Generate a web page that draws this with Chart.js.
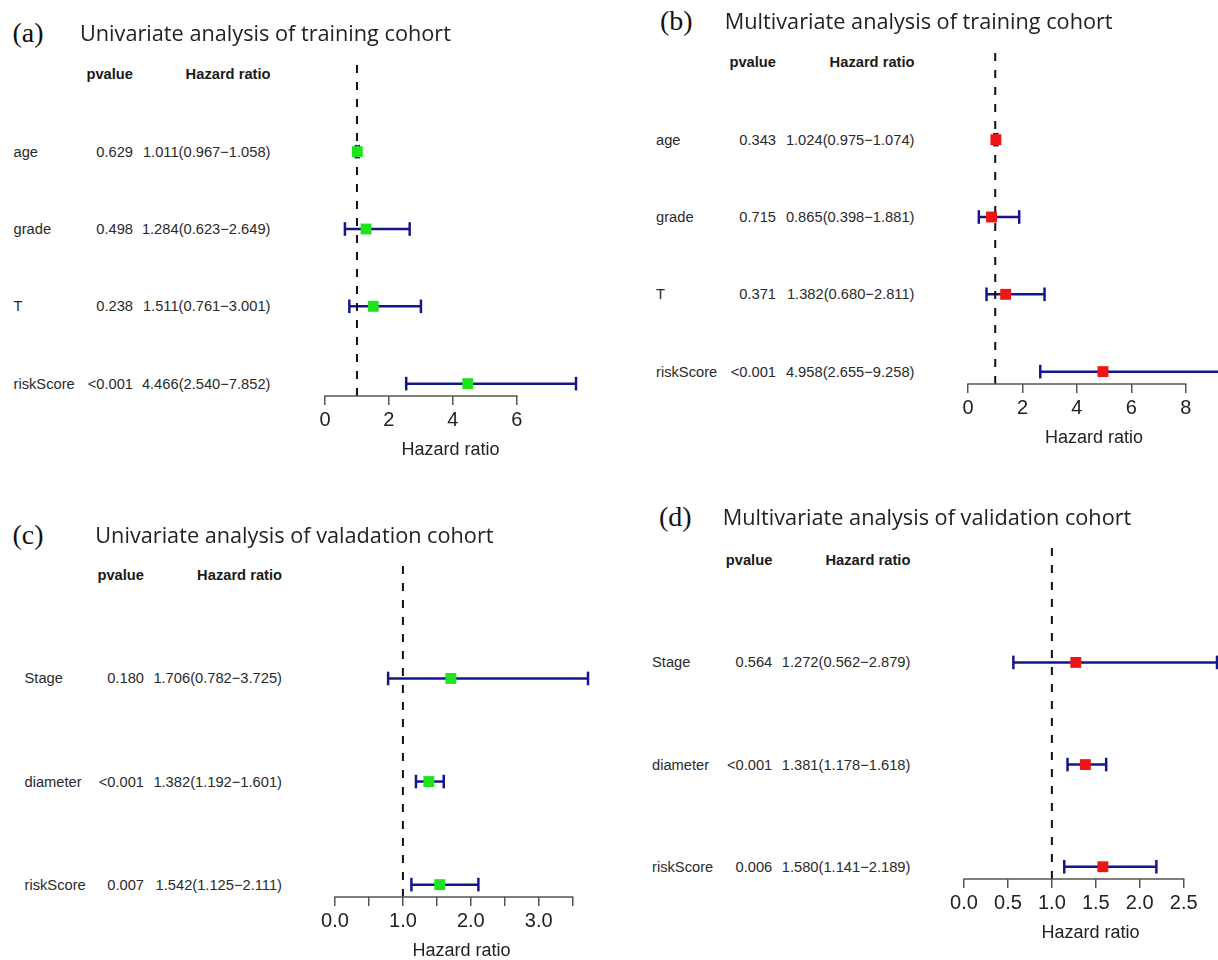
<!DOCTYPE html>
<html><head><meta charset="utf-8">
<script src="https://cdn.jsdelivr.net/npm/chart.js@4.4.1/dist/chart.umd.min.js"></script>
<style>
html,body{margin:0;padding:0;background:#fff;overflow:hidden;width:1218px;height:960px;}
#root{position:relative;width:1218px;height:960px;overflow:hidden;background:#fff;}
canvas{position:absolute;}
.t{position:absolute;white-space:nowrap;line-height:1;color:#222;font-family:"Liberation Sans",Arial,sans-serif;z-index:2;}
.tag{font-family:"Liberation Serif","Times New Roman",serif;font-size:28px;color:#111;}
.title{font-family:"Open Sans",sans-serif;font-size:21.7px;color:#222;}
.cell{font-size:14.7px;color:#2a2a2a;}
.hdr{font-size:14.7px;font-weight:bold;color:#1a1a1a;}
</style></head><body><div id="root"></div>
<script>
// ---------- data ----------
const titles = [
  'Univariate analysis of training cohort',
  'Multivariate analysis of training cohort',
  'Univariate analysis of valadation cohort',
  'Multivariate analysis of validation cohort'
];
const tags = ['(a)', '(b)', '(c)', '(d)'];

const aVars = ['age', 'grade', 'T', 'riskScore'];
const aPvalue = ['0.629', '0.498', '0.238', '<0.001'];
const aHR = [1.011, 1.284, 1.511, 4.466];
const aLow = [0.967, 0.623, 0.761, 2.540];
const aHigh = [1.058, 2.649, 3.001, 7.852];
const aTicks = [0, 2, 4, 6];
const aTickLabels = ['0', '2', '4', '6'];

const bVars = ['age', 'grade', 'T', 'riskScore'];
const bPvalue = ['0.343', '0.715', '0.371', '<0.001'];
const bHR = [1.024, 0.865, 1.382, 4.958];
const bLow = [0.975, 0.398, 0.680, 2.655];
const bHigh = [1.074, 1.881, 2.811, 9.258];
const bTicks = [0, 2, 4, 6, 8];
const bTickLabels = ['0', '2', '4', '6', '8'];

const cVars = ['Stage', 'diameter', 'riskScore'];
const cPvalue = ['0.180', '<0.001', '0.007'];
const cHR = [1.706, 1.382, 1.542];
const cLow = [0.782, 1.192, 1.125];
const cHigh = [3.725, 1.601, 2.111];
const cTicks = [0, 0.5, 1, 1.5, 2, 2.5, 3, 3.5];
const cTickLabels = ['0.0', '', '1.0', '', '2.0', '', '3.0', ''];

const dVars = ['Stage', 'diameter', 'riskScore'];
const dPvalue = ['0.564', '<0.001', '0.006'];
const dHR = [1.272, 1.381, 1.580];
const dLow = [0.562, 1.178, 1.141];
const dHigh = [2.879, 1.618, 2.189];
const dTicks = [0, 0.5, 1, 1.5, 2, 2.5];
const dTickLabels = ['0.0', '0.5', '1.0', '1.5', '2.0', '2.5'];

const refLine = 1;
const xTitle = 'Hazard ratio';
const headerP = 'pvalue';
const headerHR = 'Hazard ratio';

// ---------- styles / layout ----------
const BLUE = '#16168c', GREEN = '#1fe31f', RED = '#f01515';
const FONT = '"Liberation Sans", Arial, sans-serif';

const panels = [
  { vars: aVars, p: aPvalue, hr: aHR, low: aLow, high: aHigh, ticks: aTicks, tickLabels: aTickLabels, color: GREEN,
    title: titles[0], tag: tags[0],
    plot: { left: 325, top: 62, width: 251, height: 334 }, labelX: 13.5, pRight: 133, hrRight: 270.5,
    tagPos: [12.5, 33], titlePos: [80, 33] },
  { vars: bVars, p: bPvalue, hr: bHR, low: bLow, high: bHigh, ticks: bTicks, tickLabels: bTickLabels, color: RED,
    title: titles[1], tag: tags[1],
    plot: { left: 968, top: 50, width: 252, height: 334 }, labelX: 656, pRight: 776, hrRight: 914.5,
    tagPos: [660, 20.5], titlePos: [724.8, 20.7] },
  { vars: cVars, p: cPvalue, hr: cHR, low: cLow, high: cHigh, ticks: cTicks, tickLabels: cTickLabels, color: GREEN,
    title: titles[2], tag: tags[2],
    plot: { left: 335, top: 563, width: 253, height: 334 }, labelX: 24.5, pRight: 144, hrRight: 282,
    tagPos: [12.5, 535], titlePos: [95.3, 535] },
  { vars: dVars, p: dPvalue, hr: dHR, low: dLow, high: dHigh, ticks: dTicks, tickLabels: dTickLabels, color: RED,
    title: titles[3], tag: tags[3],
    plot: { left: 964, top: 548, width: 253, height: 331 }, labelX: 652, pRight: 772.3, hrRight: 910.4,
    tagPos: [659, 517], titlePos: [722.8, 517] }
];

const root = document.getElementById('root');
function addText(cls, text, x, y, right) {
  const d = document.createElement('div');
  d.className = 't ' + cls;
  d.textContent = text;
  d.style.left = x + 'px';
  d.style.top = y + 'px';
  d.style.transform = right ? 'translate(-100%,-50%)' : 'translate(0,-50%)';
  root.appendChild(d);
}

const axisLine = {
  id: 'axisLine',
  afterDraw(chart) {
    const s = chart.scales.x, t = s.ticks, ctx = chart.ctx;
    const x0 = s.getPixelForValue(t[0].value), x1 = s.getPixelForValue(t[t.length - 1].value);
    const y = chart.chartArea.bottom;
    ctx.save();
    ctx.strokeStyle = '#555';
    ctx.lineWidth = 1.5;
    ctx.beginPath();
    ctx.moveTo(x0 - 0.75, y);
    ctx.lineTo(x1 + 0.75, y);
    ctx.stroke();
    ctx.restore();
  }
};

const PADL = 50, PADT = 20, AXH = 70, CANVAS_EXTRA_R = 20, CANVAS_EXTRA_B = 5;

panels.forEach(p => {
  const n = p.vars.length;
  const yMin = 1 - 0.04 * n, yMax = n + 1 + 0.04 * n;
  const rowY = p.vars.map((_, i) => n - i);
  const xMax = Math.max(...p.high);

  const cl = p.plot.left - PADL, ct = p.plot.top - PADT;
  const cw = p.plot.width + PADL + CANVAS_EXTRA_R;
  const ch = p.plot.height + PADT + AXH + CANVAS_EXTRA_B;
  const canvas = document.createElement('canvas');
  canvas.width = cw; canvas.height = ch;
  canvas.style.left = cl + 'px'; canvas.style.top = ct + 'px';
  canvas.style.width = cw + 'px'; canvas.style.height = ch + 'px';
  root.appendChild(canvas);

  const datasets = [];
  p.vars.forEach((v, i) => {
    datasets.push({
      label: v + ' CI', showLine: true,
      data: [{ x: p.low[i], y: rowY[i] }, { x: p.high[i], y: rowY[i] }],
      borderColor: BLUE, borderWidth: 2.5,
      pointStyle: 'line', pointRotation: 90, pointRadius: 6.8, pointHoverRadius: 6.8,
      pointBorderWidth: 2.5, pointBorderColor: BLUE, pointBackgroundColor: BLUE,
      order: 3, clip: false
    });
  });
  datasets.push({
    label: 'ref', showLine: true,
    data: [{ x: refLine, y: yMin }, { x: refLine, y: yMax }],
    borderColor: '#111', borderWidth: 2, borderDash: [8, 9], pointRadius: 0,
    order: 2, clip: false
  });
  datasets.push({
    label: 'HR',
    data: p.hr.map((h, i) => ({ x: h, y: rowY[i] })),
    pointStyle: 'rect', pointRadius: 7.7, pointHoverRadius: 7.7,
    backgroundColor: p.color, pointBackgroundColor: p.color, pointBorderWidth: 0, borderWidth: 0,
    order: 1, clip: false
  });

  const chart = new Chart(canvas, {
    type: 'scatter',
    data: { datasets },
    plugins: [axisLine],
    options: {
      responsive: false, maintainAspectRatio: false, animation: false, events: [],
      layout: { padding: { left: PADL, top: PADT, right: CANVAS_EXTRA_R, bottom: CANVAS_EXTRA_B } },
      plugins: { legend: { display: false }, tooltip: { enabled: false } },
      scales: {
        x: {
          type: 'linear', position: 'bottom', min: 0, max: xMax,
          afterBuildTicks: s => { s.ticks = p.ticks.map(v => ({ value: v })); },
          afterFit: s => { s.height = AXH; },
          ticks: { autoSkip: false, maxRotation: 0, minRotation: 0, padding: 3, color: '#222',
            font: { family: FONT, size: 20 }, callback: (v, i) => p.tickLabels[i] },
          grid: { display: true, drawOnChartArea: false, drawTicks: true, tickLength: 9, color: '#555', lineWidth: 1.5 },
          border: { display: false },
          title: { display: true, text: xTitle, color: '#222', font: { family: FONT, size: 18 }, padding: { top: 0, bottom: 5 } }
        },
        y: { type: 'linear', display: false, min: yMin, max: yMax }
      }
    }
  });

  const ys = chart.scales.y;
  addText('tag', p.tag, p.tagPos[0], p.tagPos[1], false);
  addText('title', p.title, p.titlePos[0], p.titlePos[1], false);
  const hy = ct + ys.getPixelForValue(n + 1);
  addText('hdr', headerP, p.pRight, hy, true);
  addText('hdr', headerHR, p.hrRight, hy, true);
  p.vars.forEach((v, i) => {
    const y = ct + ys.getPixelForValue(rowY[i]);
    addText('cell', v, p.labelX, y, false);
    addText('cell', p.p[i], p.pRight, y, true);
    addText('cell', p.hr[i].toFixed(3) + '(' + p.low[i].toFixed(3) + '\u2212' + p.high[i].toFixed(3) + ')', p.hrRight, y, true);
  });
});
</script></body></html>
